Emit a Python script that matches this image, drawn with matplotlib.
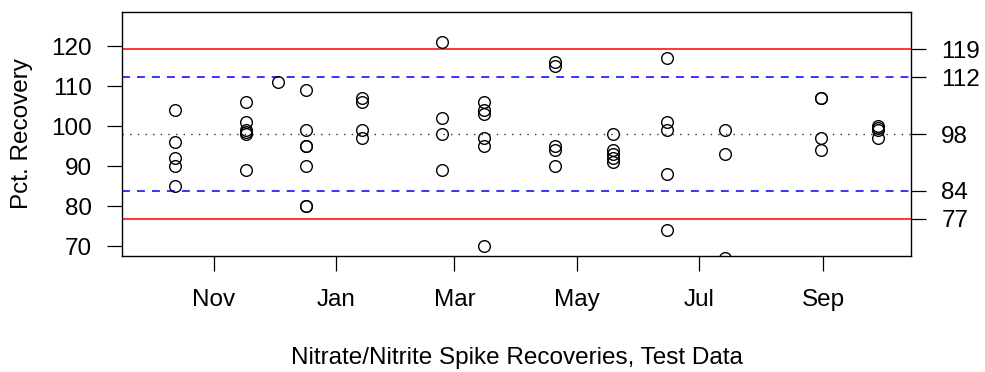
import datetime as dt
import matplotlib
matplotlib.use("Agg")
import matplotlib.pyplot as plt
import matplotlib.dates as mdates

plt.rcParams["font.family"] = ["Liberation Sans", "DejaVu Sans"]

# Spike recovery samples (one date per measurement)
sample_dates = (
    ["2018-10-13"] * 5 + ["2018-11-17"] * 6 + ["2018-12-03"] * 1 +
    ["2018-12-17"] * 7 + ["2019-01-14"] * 4 + ["2019-02-23"] * 4 +
    ["2019-03-16"] * 6 + ["2019-04-20"] * 5 + ["2019-05-19"] * 5 +
    ["2019-06-15"] * 5 + ["2019-07-14"] * 3 + ["2019-08-31"] * 4 +
    ["2019-09-28"] * 4
)
recovery = [
    104, 96, 92, 90, 85,
    106, 101, 99, 98.5, 98, 89,
    111,
    109, 99, 95, 95, 90, 80, 80,
    107, 106, 99, 97,
    121, 102, 98, 89,
    106, 104, 103, 97, 95, 70,
    116, 115, 95, 94, 90,
    98, 94, 93, 92, 91,
    117, 101, 99, 88, 74,
    99, 93, 67,
    107, 107, 97, 94,
    100, 99.5, 99, 97,
]

# control chart limits
center = 98.0
warn_lo, warn_hi = 83.8, 112.2
ctrl_lo, ctrl_hi = 76.8, 119.25
limit_labels = ["119", "112", "98", "84", "77"]

dates = [dt.datetime.strptime(d, "%Y-%m-%d") for d in sample_dates]

fs = 17.5

fig = plt.figure(figsize=(9.85, 3.72), dpi=100)
ax = fig.add_axes([0.1242, 0.3118, 0.8004, 0.6567])

ax.axhline(ctrl_hi, color="red", lw=1.1)
ax.axhline(ctrl_lo, color="red", lw=1.1)
ax.axhline(warn_hi, color="blue", lw=1.1, linestyle=(0, (5.2, 4.6)))
ax.axhline(warn_lo, color="blue", lw=1.1, linestyle=(0, (5.2, 4.6)))
ax.axhline(center, color="#333333", lw=1.0, linestyle=(0, (1, 4.5)))

ax.plot(dates, recovery, linestyle="none", marker="o", markersize=8.4,
        markerfacecolor="none", markeredgecolor="black", markeredgewidth=1.0)

x0 = mdates.date2num(dt.datetime(2018, 11, 1))
ax.set_xlim(x0 - 45.5, x0 + 347.5)
ax.set_ylim(67.5, 128.6)

ax.xaxis.set_major_locator(mdates.MonthLocator(bymonth=[1, 3, 5, 7, 9, 11]))
ax.xaxis.set_major_formatter(mdates.DateFormatter("%b"))
ax.set_yticks([70, 80, 90, 100, 110, 120])

for s in ax.spines.values():
    s.set_linewidth(1.0)
ax.tick_params(axis="both", length=11, width=0.9, labelsize=fs, color="black")
ax.tick_params(axis="x", pad=13)
ax.tick_params(axis="y", pad=11)

ax2 = ax.twinx()
ax2.set_ylim(ax.get_ylim())
ax2.set_yticks([ctrl_hi, warn_hi, center, warn_lo, ctrl_lo])
ax2.set_yticklabels(limit_labels)
ax2.tick_params(axis="y", length=11, width=0.9, labelsize=fs, pad=11)
for s in ax2.spines.values():
    s.set_visible(False)

fig.text(0.022, 0.640, "Pct. Recovery", rotation=90, ha="center", va="center",
         fontsize=fs)
fig.text(0.5244, 0.038, "Nitrate/Nitrite Spike Recoveries, Test Data",
         ha="center", va="center", fontsize=fs)

fig.savefig("out.png", dpi=100)
